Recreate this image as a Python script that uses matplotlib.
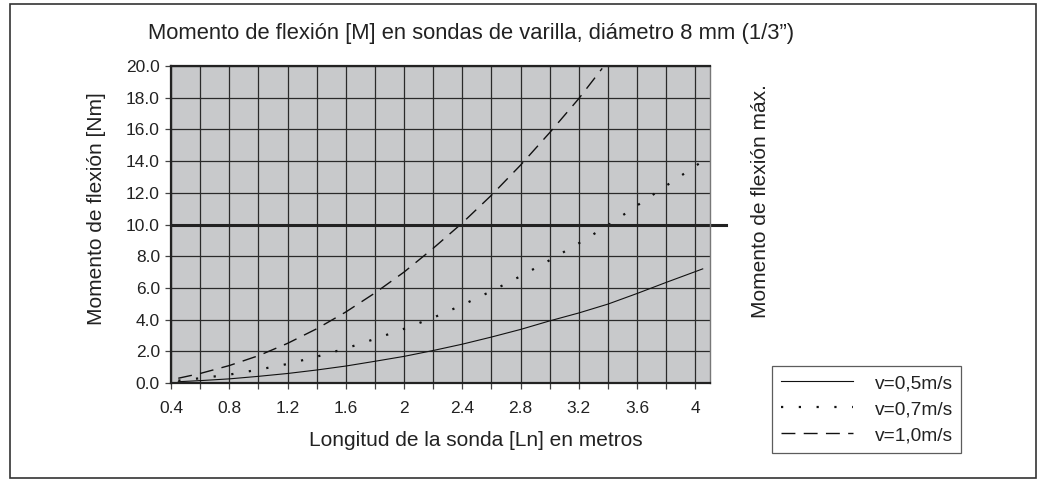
import numpy as np
import matplotlib
matplotlib.use("Agg")
import matplotlib.pyplot as plt
from matplotlib.patches import Rectangle

plt.rcParams['font.family'] = ['Liberation Sans', 'DejaVu Sans']

# values
largo = [0.45, 0.6, 0.8, 1.0, 1.2, 1.4, 1.6, 1.8, 2.0, 2.2, 2.4, 2.6, 2.8, 3.0, 3.2, 3.4, 3.6, 3.8, 4.05]
m_05 = [0.08, 0.15, 0.26, 0.42, 0.6, 0.82, 1.07, 1.37, 1.68, 2.05, 2.45, 2.9, 3.38, 3.92, 4.42, 4.98, 5.65, 6.35, 7.2]
m_07 = [0.15, 0.3, 0.53, 0.84, 1.2, 1.66, 2.18, 2.78, 3.42, 4.12, 4.92, 5.8, 6.74, 7.75, 8.82, 9.95, 11.2, 12.45, 14.0]
largo_10 = [0.45, 0.6, 0.8, 1.0, 1.2, 1.4, 1.6, 1.8, 2.0, 2.2, 2.4, 2.6, 2.8, 3.0, 3.2, 3.36]
m_10 = [0.3, 0.6, 1.1, 1.72, 2.5, 3.42, 4.48, 5.68, 7.0, 8.5, 10.1, 11.85, 13.75, 15.8, 17.95, 19.85]
m_max = 10.0

xticks = [0.4, 0.8, 1.2, 1.6, 2.0, 2.4, 2.8, 3.2, 3.6, 4.0]
xticklabels = ['0.4', '0.8', '1.2', '1.6', '2', '2.4', '2.8', '3.2', '3.6', '4']
yticks = [0, 2, 4, 6, 8, 10, 12, 14, 16, 18, 20]

txt = '#222222'
fig = plt.figure(figsize=(10.38, 4.79), dpi=100)
ax = fig.add_axes([171/1038, 1 - 383/479, 539/1038, 317/479])
ax.set_facecolor('#c8c9cb')

ax.plot(largo, m_05, color='#111111', lw=0.8, label='v=0,5m/s')
ax.plot(largo, m_07, color='#111111', lw=1.6, ls=(0, (1, 7)), label='v=0,7m/s')
ax.plot(largo_10, m_10, color='#111111', lw=1.0, ls=(0, (10, 6)), label='v=1,0m/s')
ax.axhline(m_max, xmin=0, xmax=(726 - 171) / 539, color='#222222', lw=2.2, clip_on=False)

ax.set_xlim(0.4, 4.1)
ax.set_ylim(0, 20)
ax.set_xticks(xticks)
ax.set_xticklabels(xticklabels)
ax.set_xticks(np.arange(0.6, 4.1, 0.4), minor=True)
ax.set_yticks(yticks)
ax.set_yticklabels(['%.1f' % v for v in yticks])
ax.grid(True, which='both', color='#2a2a2a', lw=0.9)
ax.set_axisbelow(True)
ax.tick_params(which='both', direction='out', length=4, width=0.9, color='#444444',
               labelsize=12.5, labelcolor=txt)
ax.tick_params(axis='x', pad=9)
ax.tick_params(axis='y', pad=4)

for side in ['left', 'bottom', 'top']:
    ax.spines[side].set_linewidth(1.6)
    ax.spines[side].set_color('#222222')
ax.spines['right'].set_linewidth(1.0)
ax.spines['right'].set_color('#777777')

fig.text(471/1038, 1 - 33/479, 'Momento de flexión [M] en sondas de varilla, diámetro 8 mm (1/3”)',
         ha='center', va='center', fontsize=15.8, color=txt)
fig.text(97/1038, 1 - 209/479, 'Momento de flexión [Nm]', rotation=90,
         ha='center', va='center', fontsize=15, color=txt)
fig.text(476/1038, 1 - 440/479, 'Longitud de la sonda [Ln] en metros',
         ha='center', va='center', fontsize=15, color=txt)
fig.text(760/1038, 1 - 201/479, 'Momento de flexión máx.', rotation=90,
         ha='center', va='center', fontsize=15, color=txt)

leg = fig.legend(loc='upper left', bbox_to_anchor=(772/1038, 1 - 366/479),
                 fontsize=13.8, frameon=True, fancybox=False, edgecolor='#333333',
                 handlelength=3.8, handletextpad=1.1, labelspacing=0.45, borderpad=0.45,
                 borderaxespad=0)
leg.get_frame().set_linewidth(0.9)
for t in leg.get_texts():
    t.set_color(txt)

fig.patches.append(Rectangle((10/1038, 1/479), 1026/1038, 474/479, transform=fig.transFigure,
                             fill=False, edgecolor='#333333', lw=1.2))

fig.savefig('out.png', dpi=100)
